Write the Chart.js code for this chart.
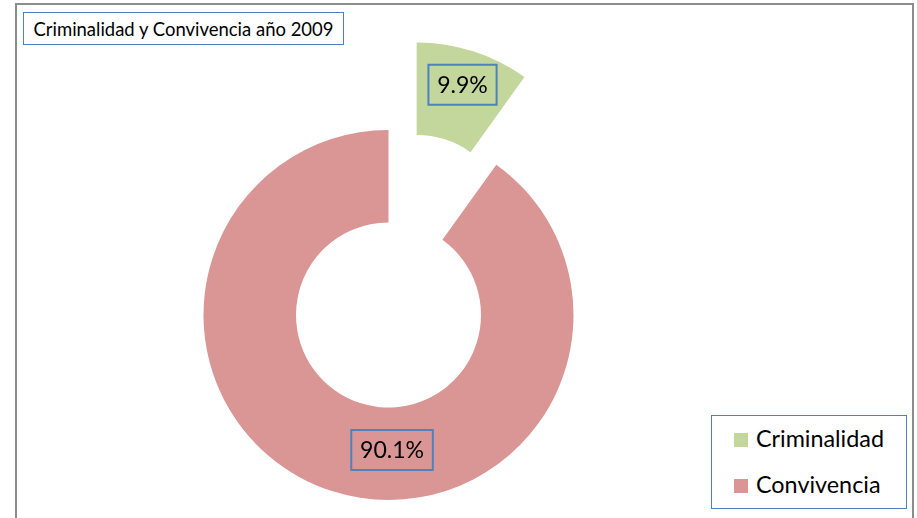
<!DOCTYPE html>
<html><head><meta charset="utf-8">
<script src="https://cdn.jsdelivr.net/npm/chart.js@4/dist/chart.umd.min.js"></script>
<style>
html,body{margin:0;padding:0;background:#fff;}
#wrap{position:relative;width:917px;height:518px;overflow:hidden;font-family:Lato,"Open Sans",sans-serif;color:#000;}
#chart{position:absolute;left:0;top:0;}
#frame{position:absolute;left:15px;top:3px;width:899px;height:540px;border:2.6px solid #8c8c8c;box-sizing:border-box;pointer-events:none;}
#title{position:absolute;left:23px;top:12px;width:321px;height:33px;border:1.5px solid #4F81BD;box-sizing:border-box;display:flex;align-items:center;justify-content:center;white-space:nowrap;background:#fff;}
#legend{position:absolute;left:711px;top:415px;width:196px;height:94px;border:1.5px solid #4F81BD;box-sizing:border-box;background:#fff;}
.sw{position:absolute;left:22px;width:14px;height:14px;}
.lt{position:absolute;left:44px;white-space:nowrap;line-height:1;}
</style></head>
<body>
<div id="wrap">
  <canvas id="chart" width="917" height="518"></canvas>
  <div id="frame"></div>
  <div id="title"></div>
  <div id="legend"></div>
</div>
<script>
const chartTitle = 'Criminalidad y Convivencia año 2009';
const categories = ['Criminalidad', 'Convivencia'];
const values = [9.9, 90.1];

const FAMILY = 'Lato, "Open Sans", sans-serif';
const sliceColors = ['#C3D69B', '#D99694'];

function fitSize(text, width) {
  const c = document.createElement('canvas').getContext('2d');
  c.font = '100px ' + FAMILY;
  return 100 * width / c.measureText(text).width;
}

// title
const t = document.getElementById('title');
t.textContent = chartTitle;
t.style.fontSize = fitSize(chartTitle, 301).toFixed(2) + 'px';

// legend
const lg = document.getElementById('legend');
const legFs = fitSize(categories[0], 128);
const swTops = [17, 63];
categories.forEach((c, i) => {
  const sw = document.createElement('div');
  sw.className = 'sw';
  sw.style.top = swTops[i] + 'px';
  sw.style.background = sliceColors[i];
  lg.appendChild(sw);
  const tx = document.createElement('div');
  tx.className = 'lt';
  tx.textContent = c;
  tx.style.fontSize = legFs.toFixed(2) + 'px';
  tx.style.top = (swTops[i] + 7 - legFs * 0.55) + 'px';
  lg.appendChild(tx);
});

const explodePlugin = {
  id: 'explode',
  afterDatasetsUpdate(chart, args, opts) {
    const meta = chart.getDatasetMeta(0);
    (opts.offsets || []).forEach((d, i) => {
      const arc = meta.data[i];
      if (!arc || !d) return;
      const mid = (arc.startAngle + arc.endAngle) / 2;
      arc.x += Math.cos(mid) * d;
      arc.y += Math.sin(mid) * d;
    });
  }
};

const labelPlugin = {
  id: 'boxLabels',
  afterDatasetsDraw(chart, args, opts) {
    const ctx = chart.ctx;
    const meta = chart.getDatasetMeta(0);
    const ds = chart.data.datasets[0];
    const fs = fitSize('9.9%', 50.7);
    ctx.save();
    ctx.font = fs + 'px ' + FAMILY;
    ctx.textAlign = 'center';
    ctx.textBaseline = 'middle';
    meta.data.forEach((arc, i) => {
      const p = opts.place[i];
      const ang = p.deg == null ? (arc.startAngle + arc.endAngle) / 2 : (p.deg - 90) * Math.PI / 180;
      const r = arc.outerRadius * p.r;
      const x = arc.x + Math.cos(ang) * r;
      const y = arc.y + Math.sin(ang) * r;
      const txt = ds.data[i].toFixed(1) + '%';
      const w = ctx.measureText(txt).width + 17.5;
      const h = 40;
      ctx.lineWidth = 2;
      ctx.strokeStyle = '#4F81BD';
      ctx.strokeRect(x - w / 2, y - h / 2, w, h);
      ctx.fillStyle = '#000';
      ctx.fillText(txt, x, y + 1);
    });
    ctx.restore();
  }
};

new Chart(document.getElementById('chart'), {
  type: 'doughnut',
  data: {
    labels: categories,
    datasets: [{
      data: values,
      backgroundColor: sliceColors,
      borderWidth: 0,
      clip: false
    }]
  },
  options: {
    responsive: false,
    animation: false,
    events: [],
    radius: 185,
    cutout: '50%',
    rotation: 0,
    layout: { padding: { left: 0, right: 140, top: 112, bottom: 0 } },
    plugins: {
      legend: { display: false },
      tooltip: { enabled: false },
      explode: { offsets: [92, 0] },
      boxLabels: { place: [{ r: 0.81, deg: null }, { r: 0.73, deg: 178.5 }] }
    }
  },
  plugins: [explodePlugin, labelPlugin]
});
</script>
</body></html>
